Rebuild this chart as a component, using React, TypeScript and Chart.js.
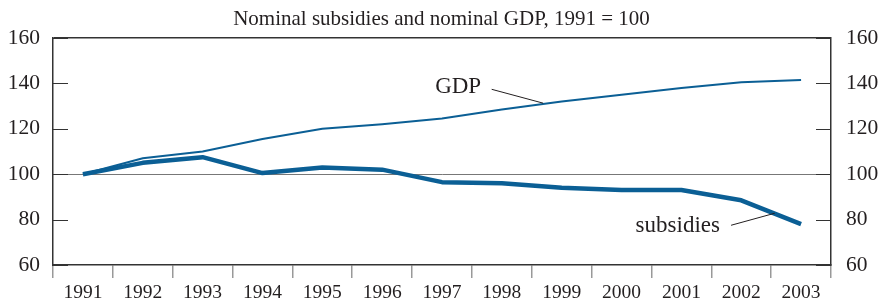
import React, { useEffect, useRef } from "react";
import { Chart, registerables } from "chart.js";

Chart.register(...registerables);

const years = ["1991", "1992", "1993", "1994", "1995", "1996", "1997", "1998", "1999", "2000", "2001", "2002", "2003"];
const gdp = [100, 107, 110, 115.5, 120, 122, 124.5, 128.5, 132, 135, 138, 140.5, 141.5];
const subsidies = [100, 105, 107.5, 100.5, 103, 102, 96.5, 96, 94, 93, 93, 88.5, 78];
const yTicks = [60, 80, 100, 120, 140, 160];
const titleText = "Nominal subsidies and nominal GDP, 1991 = 100";

// label annotations in data units (category index, value)
const gdpLabel = { text: "GDP", x: 6.27, y: 138.3, lineFrom: [6.83, 137.4], lineTo: [7.69, 131.3] };
const subLabel = { text: "subsidies", x: 9.94, y: 77, lineFrom: [10.83, 77.5], lineTo: [11.56, 82.8] };

const FONT = "'Liberation Serif', 'Times New Roman', serif";
const BLUE = "#0b5f95";

const annotPlugin = {
  id: "annot",
  afterDatasetsDraw(chart: any) {
    const ctx = chart.ctx;
    const xs = chart.scales.x;
    const ys = chart.scales.y;
    const area = chart.chartArea;
    ctx.save();
    ctx.strokeStyle = "#333";
    ctx.lineWidth = 1;
    yTicks.forEach((v) => {
      const py = Math.round(ys.getPixelForValue(v)) + 0.5;
      ctx.beginPath();
      ctx.moveTo(area.left, py);
      ctx.lineTo(area.left + 15, py);
      ctx.moveTo(area.right - 15, py);
      ctx.lineTo(area.right, py);
      ctx.stroke();
    });
    ctx.fillStyle = "#231f20";
    ctx.font = `23px ${FONT}`;
    ctx.textAlign = "center";
    ctx.textBaseline = "middle";
    [gdpLabel, subLabel].forEach((l) => {
      ctx.fillText(l.text, xs.getPixelForValue(l.x), ys.getPixelForValue(l.y));
      ctx.beginPath();
      ctx.strokeStyle = "#231f20";
      ctx.lineWidth = 1;
      ctx.moveTo(xs.getPixelForValue(l.lineFrom[0]), ys.getPixelForValue(l.lineFrom[1]));
      ctx.lineTo(xs.getPixelForValue(l.lineTo[0]), ys.getPixelForValue(l.lineTo[1]));
      ctx.stroke();
    });
    ctx.restore();
  },
};

export default function App() {
  const ref = useRef<HTMLCanvasElement>(null);
  useEffect(() => {
    if (!ref.current) return;
    const chart = new Chart(ref.current, {
      type: "line",
      data: {
        labels: years,
        datasets: [
          { label: "GDP", data: gdp, borderColor: BLUE, borderWidth: 2, pointRadius: 0, tension: 0, fill: false },
          { label: "subsidies", data: subsidies, borderColor: BLUE, borderWidth: 4.5, pointRadius: 0, tension: 0, fill: false, borderJoinStyle: "round" as any },
        ],
      },
      options: {
        animation: false,
        responsive: true,
        maintainAspectRatio: false,
        layout: { padding: 0 },
        plugins: {
          legend: { display: false },
          tooltip: { enabled: false },
          title: {
            display: true,
            text: titleText,
            color: "#231f20",
            font: { family: FONT, size: 21, weight: "normal" },
            padding: { top: 7, bottom: 5.8 },
          },
        },
        scales: {
          x: {
            type: "category",
            offset: true,
            grid: { drawOnChartArea: false, offset: true, drawTicks: true, tickLength: 13, color: "#999", lineWidth: 1.5 },
            border: { display: true, color: "#333", width: 1.5 },
            ticks: { color: "#231f20", font: { family: FONT, size: 19.5 }, padding: 3, maxRotation: 0, autoSkip: false },
            afterFit: (s: any) => { s.height = 40; },
          },
          y: {
            position: "left",
            min: 60,
            max: 160,
            ticks: { stepSize: 20, color: "#231f20", font: { family: FONT, size: 21.5 }, padding: 13, },
            grid: {
              drawTicks: false,
              color: (c: any) => (c.tick && c.tick.value === 100 ? "#777" : c.tick && c.tick.value === 160 ? "#333" : "rgba(0,0,0,0)"),
              lineWidth: (c: any) => (c.tick && c.tick.value === 160 ? 1.5 : 1),
            },
            border: { display: true, color: "#333", width: 1.5 },
            afterFit: (s: any) => { s.width = 53; },
          },
          y2: {
            position: "right",
            min: 60,
            max: 160,
            ticks: { stepSize: 20, color: "#231f20", font: { family: FONT, size: 21.5 }, padding: 15 },
            grid: { display: false, drawTicks: false },
            border: { display: true, color: "#333", width: 1.5 },
            afterFit: (s: any) => { s.width = 52; },
          },
        },
      },
      plugins: [annotPlugin],
    });
    return () => chart.destroy();
  }, []);
  return (
    <div style={{ position: "fixed", left: 0, top: 0, width: 883, height: 305, background: "#fff" }}>
      <canvas ref={ref} />
    </div>
  );
}
